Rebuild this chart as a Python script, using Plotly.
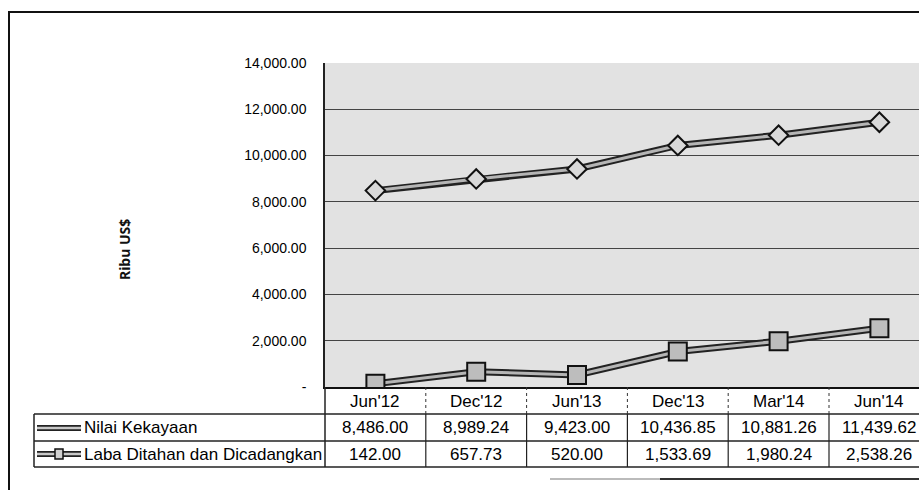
import plotly.graph_objects as go

# ---- data ----
categories = ["Jun'12", "Dec'12", "Jun'13", "Dec'13", "Mar'14", "Jun'14"]
series_names = ["Nilai Kekayaan", "Laba Ditahan dan Dicadangkan"]
nilai_kekayaan = [8486.00, 8989.24, 9423.00, 10436.85, 10881.26, 11439.62]
laba_ditahan = [142.00, 657.73, 520.00, 1533.69, 1980.24, 2538.26]
y_tick_vals = [0, 2000, 4000, 6000, 8000, 10000, 12000, 14000]
y_tick_text = ["-", "2,000.00", "4,000.00", "6,000.00", "8,000.00",
               "10,000.00", "12,000.00", "14,000.00"]
y_title = "Ribu US$"

# ---- layout geometry (pixels) ----
W, H = 919, 490
PL, PR, PT, PB = 325, 919, 63, 387
PW, PH = PR - PL, PB - PT


def px(x):
    return (x - PL) / PW


def py(y):
    return (PB - y) / PH


xs = list(range(len(categories)))
FONT = "Arial, Liberation Sans, sans-serif"
TXT = "#000000"

fig = go.Figure()

# line styling: dark outer band + gray inner band
for vals, sym, msize, mfill in [
    (nilai_kekayaan, "diamond", 15, "#d9d9d9"),
    (laba_ditahan, "square", 18, "#bdbdbd"),
]:
    fig.add_trace(go.Scatter(x=xs, y=vals, mode="lines",
                             line=dict(color="#222", width=7),
                             hoverinfo="skip", showlegend=False))
    fig.add_trace(go.Scatter(x=xs, y=vals, mode="lines+markers",
                             line=dict(color="#b5b5b5", width=3),
                             marker=dict(symbol=sym, size=msize, color=mfill,
                                         line=dict(color="#111", width=2)),
                             showlegend=False))

shapes = []
annotations = []

# outer chart border (top & left)
shapes.append(dict(type="line", xref="paper", yref="paper",
                   x0=px(8), x1=px(925), y0=py(12), y1=py(12),
                   line=dict(color="#111", width=2)))
shapes.append(dict(type="line", xref="paper", yref="paper",
                   x0=px(9), x1=px(9), y0=py(12), y1=py(495),
                   line=dict(color="#111", width=2)))
# bottom-right edge of next element
shapes.append(dict(type="line", xref="paper", yref="paper",
                   x0=px(550), x1=px(660), y0=py(479), y1=py(479),
                   line=dict(color="#bbb", width=2)))
shapes.append(dict(type="line", xref="paper", yref="paper",
                   x0=px(660), x1=px(925), y0=py(479), y1=py(479),
                   line=dict(color="#333", width=2)))

# data table grid
ROW_TOP, ROW1, ROW2 = 414, 441, 467
for yy in (ROW_TOP, ROW1, ROW2):
    shapes.append(dict(type="line", xref="paper", yref="paper",
                       x0=px(34), x1=px(925), y0=py(yy), y1=py(yy),
                       line=dict(color="#222", width=1.5)))
shapes.append(dict(type="line", xref="paper", yref="paper",
                   x0=px(34), x1=px(34), y0=py(ROW_TOP), y1=py(ROW2),
                   line=dict(color="#222", width=1.5)))
shapes.append(dict(type="line", xref="paper", yref="paper",
                   x0=0, x1=0, y0=py(PB), y1=py(ROW2),
                   line=dict(color="#222", width=1.5)))
for i in range(len(categories) - 1):
    shapes.append(dict(type="line", xref="x", yref="paper",
                       x0=i + 0.5, x1=i + 0.5, y0=py(PB), y1=py(ROW_TOP),
                       line=dict(color="#333", width=1, dash="dot")))
    shapes.append(dict(type="line", xref="x", yref="paper",
                       x0=i + 0.5, x1=i + 0.5, y0=py(ROW_TOP), y1=py(ROW2),
                       line=dict(color="#222", width=1.2)))

# header row: categories
for i, c in enumerate(categories):
    annotations.append(dict(x=i, y=py(401), xref="x", yref="paper",
                            xanchor="center", yanchor="middle",
                            text=c, showarrow=False,
                            font=dict(family=FONT, size=17, color=TXT)))

# rows: series values
for row_y, vals in [(428, nilai_kekayaan), (454, laba_ditahan)]:
    for i, v in enumerate(vals):
        annotations.append(dict(x=i, y=py(row_y), xref="x", yref="paper",
                                xanchor="center", yanchor="middle",
                                text=f"{v:,.2f}", showarrow=False,
                                font=dict(family=FONT, size=17, color=TXT)))

# row labels with legend keys
for row_y, name, key_marker in [(428, series_names[0], False),
                                (454, series_names[1], True)]:
    annotations.append(dict(x=px(82), y=py(row_y), xref="paper", yref="paper",
                            text=name, showarrow=False,
                            xanchor="left", yanchor="middle",
                            font=dict(family=FONT, size=17, color=TXT)))
    shapes.append(dict(type="line", xref="paper", yref="paper",
                       x0=px(37), x1=px(81), y0=py(row_y), y1=py(row_y),
                       line=dict(color="#222", width=6)))
    shapes.append(dict(type="line", xref="paper", yref="paper",
                       x0=px(37), x1=px(81), y0=py(row_y), y1=py(row_y),
                       line=dict(color="#c8c8c8", width=2.5)))
    if key_marker:
        shapes.append(dict(type="rect", xref="paper", yref="paper",
                           x0=px(55), x1=px(63), y0=py(row_y + 5), y1=py(row_y - 5),
                           fillcolor="#d0d0d0", line=dict(color="#111", width=1.5)))

# y-axis title
annotations.append(dict(x=px(124), y=py(250), xref="paper", yref="paper",
                        xanchor="center", yanchor="middle",
                        text=y_title, showarrow=False, textangle=-90,
                        font=dict(family="Noto Sans, DejaVu Sans, sans-serif",
                                  size=14, color="#111", weight="bold")))

fig.update_layout(
    width=W, height=H,
    margin=dict(l=PL, r=W - PR, t=PT, b=H - PB, pad=0),
    paper_bgcolor="white",
    plot_bgcolor="#e2e2e2",
    shapes=shapes,
    annotations=annotations,
    showlegend=False,
    xaxis=dict(range=[-0.5, -0.5 + PW / 100.8], showticklabels=False,
               showgrid=False, zeroline=False, showline=True,
               linecolor="#111", linewidth=2, fixedrange=True),
    yaxis=dict(range=[0, 14000], tickvals=y_tick_vals, ticktext=y_tick_text,
               showgrid=True, gridcolor="#444", gridwidth=1,
               zeroline=False, showline=True, linecolor="#222", linewidth=1.5,
               ticks="", ticklabelstandoff=14,
               tickfont=dict(family=FONT, size=14, color="#000"),
               fixedrange=True),
)

fig.write_html("out.html",
               config={"displayModeBar": False},
               post_script="document.body.style.margin='0px';"
                           "document.body.style.overflow='hidden';")
